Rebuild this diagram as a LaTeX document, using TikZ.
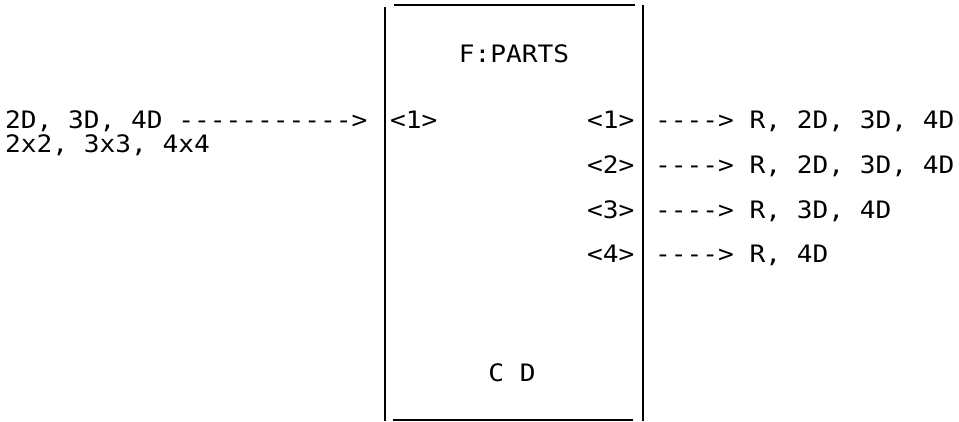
\documentclass[tikz,border=0pt]{standalone}
\usepackage{fontspec}
\newfontfamily\monofont[FakeStretch=1.09,Ligatures=TeXOff]{DejaVu Sans Mono}
\begin{document}
\begin{tikzpicture}[x=1pt,y=-1pt,
  txt/.style={font=\monofont\fontsize{24}{28}\selectfont, inner sep=0pt, text=black},
  vline/.style={line width=2.2pt, black},
  hline/.style={line width=1.5pt, black}]
\useasboundingbox (0,0) rectangle (959,421);
% box sides
\coordinate (lt) at (385,7);
\coordinate (lb) at (385,421);
\coordinate (rt) at (643,5);
\coordinate (rb) at (643,421);
\coordinate (tl) at (394,5);
\coordinate (tr) at (635,5);
\coordinate (bl) at (393,420);
\coordinate (br) at (633,420);
\draw[vline] (lt) -- (lb);
\draw[vline] (rt) -- (rb);
\draw[hline] (tl) -- (tr);
\draw[hline] (bl) -- (br);
% title and footer
\node[txt, anchor=base] (title) at (514,62) {F:PARTS};
\node[txt, anchor=base] (cd) at (512,381) {C D};
% input
\node[txt, anchor=base west] (in1) at (5,128) {2D, 3D, 4D ----------->};
\node[txt, anchor=base west] (in2) at (5,152) {2x2, 3x3, 4x4};
\node[txt, anchor=base west] (p0) at (390,128) {<1>};
% outputs
\node[txt, anchor=base west] (p1) at (587,128) {<1>};
\node[txt, anchor=base west] (p2) at (587,173) {<2>};
\node[txt, anchor=base west] (p3) at (587,218) {<3>};
\node[txt, anchor=base west] (p4) at (587,262) {<4>};
\node[txt, anchor=base west] (o1) at (655,128) {----> R, 2D, 3D, 4D};
\node[txt, anchor=base west] (o2) at (655,173) {----> R, 2D, 3D, 4D};
\node[txt, anchor=base west] (o3) at (655,218) {----> R, 3D, 4D};
\node[txt, anchor=base west] (o4) at (655,262) {----> R, 4D};
\end{tikzpicture}
\end{document}
